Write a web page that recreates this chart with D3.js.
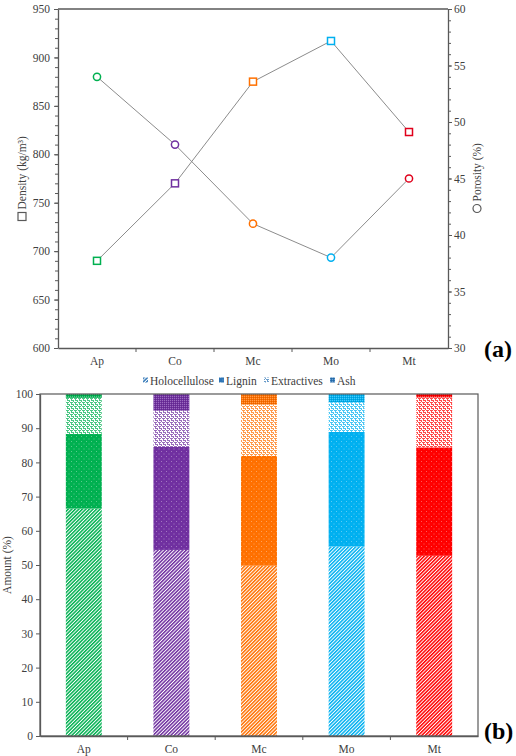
<!DOCTYPE html>
<html>
<head>
<meta charset="utf-8">
<script src="https://cdn.jsdelivr.net/npm/d3@7"></script>
<style>
  body { margin: 0; background: #fff; }
  svg text { font-family: "Liberation Serif", "Times New Roman", "DejaVu Serif", serif !important; }
</style>
</head>
<body>
<div id="chart"></div>
<script>
// data
const categories = ["Ap", "Co", "Mc", "Mo", "Mt"];
const sampleColors = ["#00b050", "#7030a0", "#ff7000", "#00b0f0", "#ff0000"];
const markerColors = ["#00b050", "#7030a0", "#ff7000", "#00b0f0", "#e0001b"];

const density = [690, 770, 875, 917, 823];   // kg/m3
const porosity = [54, 48, 41, 38, 45];       // %

const components = ["Holocellulose", "Lignin", "Extractives", "Ash"];
const holocellulose = [66.5, 54.4, 49.8, 55.4, 52.7];
const lignin = [21.8, 30.1, 32.1, 33.5, 31.7];
const extractives = [10.6, 10.6, 15.0, 8.7, 14.6];
const ash = [1.1, 4.9, 3.1, 2.4, 1.0];

const W = 516, H = 756;
const axisColor = "#595959";

const svg = d3.select("#chart").append("svg")
    .attr("width", W)
    .attr("height", H)
    .style("display", "block");

const defs = svg.append("defs");

// fill patterns, one set per colour
function addPatterns(color, key) {
    // holocellulose: diagonal stripes
    const p1 = defs.append("pattern")
        .attr("id", "holo-" + key)
        .attr("patternUnits", "userSpaceOnUse")
        .attr("width", 2.5).attr("height", 2.5)
        .attr("patternTransform", "rotate(45)");
    p1.append("rect").attr("width", 2.5).attr("height", 2.5).attr("fill", "#fff");
    p1.append("rect").attr("width", 1.5).attr("height", 2.5).attr("fill", color);

    // lignin: solid with small light dots
    const p2 = defs.append("pattern")
        .attr("id", "lig-" + key)
        .attr("patternUnits", "userSpaceOnUse")
        .attr("width", 5).attr("height", 5);
    p2.append("rect").attr("width", 5).attr("height", 5).attr("fill", color);
    p2.append("rect").attr("x", 1).attr("y", 1).attr("width", 1).attr("height", 1)
        .attr("fill", "#fff").attr("opacity", 0.35);
    p2.append("rect").attr("x", 3.5).attr("y", 3.5).attr("width", 1).attr("height", 1)
        .attr("fill", "#fff").attr("opacity", 0.35);

    // extractives: light confetti
    const p3 = defs.append("pattern")
        .attr("id", "ext-" + key)
        .attr("patternUnits", "userSpaceOnUse")
        .attr("width", 4).attr("height", 4);
    p3.append("rect").attr("width", 4).attr("height", 4).attr("fill", "#fff");
    [[0, 0, 2, 1], [1, 1, 1, 1], [2, 2, 2, 1], [3, 3, 1, 1], [3, 0, 1, 1], [0, 2, 1, 1]].forEach(r => {
        p3.append("rect").attr("x", r[0]).attr("y", r[1]).attr("width", r[2]).attr("height", r[3])
            .attr("fill", color).attr("opacity", 0.7);
    });

    // ash: solid with fine checker
    const p4 = defs.append("pattern")
        .attr("id", "ash-" + key)
        .attr("patternUnits", "userSpaceOnUse")
        .attr("width", 2).attr("height", 2);
    p4.append("rect").attr("width", 2).attr("height", 2).attr("fill", color);
    p4.append("rect").attr("width", 1).attr("height", 1).attr("fill", "#fff").attr("opacity", 0.3);
    p4.append("rect").attr("x", 1).attr("y", 1).attr("width", 1).attr("height", 1)
        .attr("fill", "#000").attr("opacity", 0.12);
}
sampleColors.forEach((c, i) => addPatterns(c, i));
addPatterns("#2e75b6", "leg");

// ---------- (a) density / porosity ----------
const a = {left: 58, right: 448, top: 9, bottom: 348};

const xA = d3.scaleBand().domain(categories).range([a.left, a.right]);
const yDen = d3.scaleLinear().domain([600, 950]).range([a.bottom, a.top]);
const yPor = d3.scaleLinear().domain([30, 60]).range([a.bottom, a.top]);

const gA = svg.append("g");

// top frame line
gA.append("line")
    .attr("x1", a.left).attr("x2", a.right)
    .attr("y1", a.top).attr("y2", a.top)
    .attr("stroke", axisColor).attr("stroke-width", 1.5);

function styleAxis(g) {
    g.select(".domain").attr("stroke", axisColor).attr("stroke-width", 1.3);
    g.selectAll(".tick line").attr("stroke", axisColor);
    g.selectAll(".tick text")
        .attr("font-size", 11.5)
        .attr("fill", "#404040");
}

// minor ticks
gA.append("g")
    .attr("transform", `translate(${a.left},0)`)
    .call(d3.axisLeft(yDen).tickValues(d3.range(600, 951, 10)).tickSize(3).tickFormat(""))
    .call(g => g.select(".domain").remove())
    .call(g => g.selectAll("line").attr("stroke", axisColor));
gA.append("g")
    .attr("transform", `translate(${a.left},0)`)
    .call(d3.axisLeft(yDen).tickValues(d3.range(600, 951, 50)).tickSize(4).tickSizeOuter(0).tickPadding(4))
    .call(styleAxis);

gA.append("g")
    .attr("transform", `translate(${a.right},0)`)
    .call(d3.axisRight(yPor).tickValues(d3.range(30, 61, 1)).tickSize(3).tickFormat(""))
    .call(g => g.select(".domain").remove())
    .call(g => g.selectAll("line").attr("stroke", axisColor));
gA.append("g")
    .attr("transform", `translate(${a.right},0)`)
    .call(d3.axisRight(yPor).tickValues(d3.range(30, 61, 5)).tickSize(4).tickSizeOuter(0).tickPadding(2))
    .call(styleAxis);

// x axis with ticks at band boundaries
const xAxisA = gA.append("g")
    .attr("transform", `translate(0,${a.bottom})`)
    .call(d3.axisBottom(xA).tickSize(0).tickPadding(9))
    .call(styleAxis);
xAxisA.selectAll(".bound")
    .data(categories.slice(1))
    .join("line")
    .attr("x1", d => xA(d)).attr("x2", d => xA(d))
    .attr("y1", 0).attr("y2", 4)
    .attr("stroke", axisColor);

const cx = d => xA(d) + xA.bandwidth() / 2;
const line = d3.line().x((d, i) => cx(categories[i]));

gA.append("path")
    .attr("d", line.y(d => yDen(d))(density))
    .attr("fill", "none").attr("stroke", "#8c8c8c").attr("stroke-width", 1);
gA.append("path")
    .attr("d", line.y(d => yPor(d))(porosity))
    .attr("fill", "none").attr("stroke", "#8c8c8c").attr("stroke-width", 1);

gA.selectAll(".sq")
    .data(density)
    .join("rect")
    .attr("x", (d, i) => cx(categories[i]) - 3.5)
    .attr("y", d => yDen(d) - 3.5)
    .attr("width", 7).attr("height", 7)
    .attr("fill", "#fff")
    .attr("stroke", (d, i) => markerColors[i])
    .attr("stroke-width", 1.5);

gA.selectAll(".ci")
    .data(porosity)
    .join("circle")
    .attr("cx", (d, i) => cx(categories[i]))
    .attr("cy", d => yPor(d))
    .attr("r", 3.6)
    .attr("fill", "#fff")
    .attr("stroke", (d, i) => markerColors[i])
    .attr("stroke-width", 1.5);

// axis titles
const leftTitle = gA.append("g")
    .attr("transform", `translate(26,${(a.top + a.bottom) / 2}) rotate(-90)`);
leftTitle.append("rect")
    .attr("x", -42).attr("y", -8).attr("width", 8).attr("height", 8)
    .attr("fill", "#fff").attr("stroke", "#595959").attr("stroke-width", 1.2);
leftTitle.append("text")
    .attr("x", -31).attr("y", 0)
    .attr("font-size", 11.5).attr("fill", "#404040")
    .text("Density (kg/m³)");

const rightTitle = gA.append("g")
    .attr("transform", `translate(481,${(a.top + a.bottom) / 2 - 4}) rotate(-90)`);
rightTitle.append("circle")
    .attr("cx", -34).attr("cy", -4).attr("r", 4)
    .attr("fill", "#fff").attr("stroke", "#595959").attr("stroke-width", 1.2);
rightTitle.append("text")
    .attr("x", -27).attr("y", 0)
    .attr("font-size", 11.5).attr("fill", "#404040")
    .text("Porosity (%)");

svg.append("text")
    .attr("x", 484).attr("y", 357)
    .attr("font-size", 24).attr("font-weight", "bold").attr("fill", "#000")
    .text("(a)");

// ---------- (b) chemical composition ----------
const b = {left: 40, right: 478, top: 394, bottom: 736};

const xB = d3.scaleBand().domain(categories).range([b.left, b.right]).paddingInner(0.59).paddingOuter(0.295);
const yB = d3.scaleLinear().domain([0, 100]).range([b.bottom, b.top]);
const xBand = d3.scaleBand().domain(categories).range([b.left, b.right]);

const rows = categories.map((c, i) => ({
    cat: c, idx: i,
    Holocellulose: holocellulose[i], Lignin: lignin[i],
    Extractives: extractives[i], Ash: ash[i]
}));
const stacked = d3.stack().keys(components)(rows);
const patPrefix = {Holocellulose: "holo", Lignin: "lig", Extractives: "ext", Ash: "ash"};

const gB = svg.append("g");

gB.selectAll(".layer")
    .data(stacked)
    .join("g")
    .selectAll("rect")
    .data(layer => layer.map(d => ({d, key: layer.key})))
    .join("rect")
    .attr("x", o => xB(o.d.data.cat))
    .attr("width", xB.bandwidth())
    .attr("y", o => yB(o.d[1]))
    .attr("height", o => yB(o.d[0]) - yB(o.d[1]))
    .attr("fill", o => `url(#${patPrefix[o.key]}-${o.d.data.idx})`);

// frame
gB.append("rect")
    .attr("x", b.left).attr("y", b.top)
    .attr("width", b.right - b.left).attr("height", b.bottom - b.top)
    .attr("fill", "none").attr("stroke", axisColor).attr("stroke-width", 1.2);

gB.append("g")
    .attr("transform", `translate(${b.left},0)`)
    .call(d3.axisLeft(yB).tickValues(d3.range(0, 101, 10)).tickSize(4).tickSizeOuter(0).tickPadding(3))
    .call(styleAxis);

const xAxisB = gB.append("g")
    .attr("transform", `translate(0,${b.bottom})`)
    .call(d3.axisBottom(xBand).tickSize(0).tickPadding(9))
    .call(styleAxis);
xAxisB.selectAll(".bound")
    .data(categories.slice(1))
    .join("line")
    .attr("x1", d => xBand(d)).attr("x2", d => xBand(d))
    .attr("y1", 0).attr("y2", 4)
    .attr("stroke", axisColor);

gB.append("text")
    .attr("transform", `translate(11,${(b.top + b.bottom) / 2}) rotate(-90)`)
    .attr("text-anchor", "middle")
    .attr("font-size", 11.5).attr("fill", "#404040")
    .text("Amount (%)");

// legend
const legendX = [143, 219, 264, 330];
const legend = gB.selectAll(".leg")
    .data(components)
    .join("g")
    .attr("transform", (d, i) => `translate(${legendX[i]},381)`);
legend.append("rect")
    .attr("x", 0).attr("y", -3.5).attr("width", 5).attr("height", 5)
    .attr("fill", d => `url(#${patPrefix[d]}-leg)`);
legend.append("text")
    .attr("x", 7).attr("y", 4)
    .attr("font-size", 11.5).attr("fill", "#404040")
    .text(d => d);

svg.append("text")
    .attr("x", 484).attr("y", 739)
    .attr("font-size", 24).attr("font-weight", "bold").attr("fill", "#000")
    .text("(b)");
</script>
</body>
</html>
